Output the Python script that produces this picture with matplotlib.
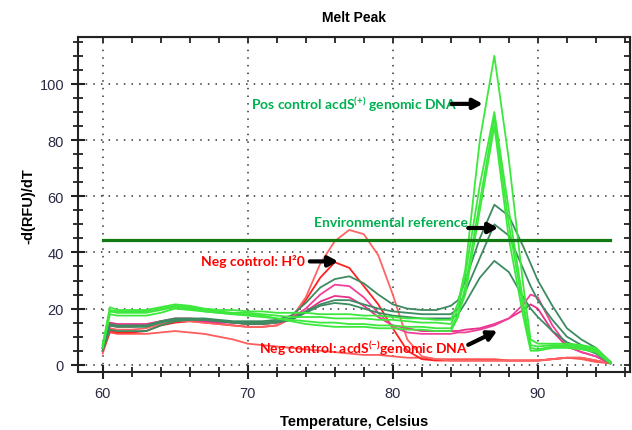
import matplotlib
matplotlib.use("Agg")
import matplotlib.pyplot as plt
from matplotlib.ticker import MultipleLocator

# melt temperatures (Celsius)
temps = [60, 60.5, 61, 62, 63, 64, 65, 66, 67, 68, 69, 70, 71, 72, 73, 74, 75, 76, 77, 78,
         79, 80, 81, 82, 83, 84, 84.5, 85, 86, 87, 88, 89, 89.5, 90, 91, 92, 93, 94, 95]

# positive control acdS(+) genomic DNA
pos_1 = [7, 20.5, 19.5, 19.5, 19.5, 20.5, 21.5, 21, 20, 19.5, 19.5, 19, 19, 18.5, 18.5, 18.5, 18, 18, 18, 17.5,
         17.5, 17, 16.5, 16.5, 16, 16, 22, 34, 80, 110, 73, 28, 9, 7.5, 7.5, 7.5, 7, 6, 1]
pos_2 = [7, 19.5, 19, 19, 19, 20, 21, 20.5, 19.5, 19, 18.5, 18.5, 18, 17.5, 17, 17, 17, 16.5, 16.5, 16.5,
         16, 16, 15.5, 15, 15, 14.5, 20, 32, 64, 90, 55, 22, 7, 6.5, 7, 7, 6.5, 5.5, 1]
pos_3 = [6, 18, 17.5, 17.5, 17.5, 18.5, 20, 19.5, 19, 18.5, 18, 18, 17.5, 16.5, 15.5, 14.5, 14, 13.5, 13.5, 13.5,
         13, 13, 12.5, 12.5, 12, 12, 17, 28, 58, 88, 50, 20, 6, 5.5, 6.5, 6.5, 6, 5, 1]
pos_4 = [6, 19, 18.5, 18.5, 18.5, 19.5, 20.5, 20, 19, 18.5, 18, 17.5, 17, 16.5, 16, 15.5, 15, 15, 14.5, 14.5,
         14, 14, 13.5, 13.5, 13, 13, 18, 25, 55, 85, 45, 17, 5, 5, 6, 6, 5.5, 4.5, 0.5]

# environmental samples
env_1 = [6, 14.5, 14, 14, 14, 15.5, 16.5, 16.5, 16.5, 16, 15.5, 15.5, 15.5, 16, 17.5, 22, 27.5, 30.5, 31.5, 29,
         25, 21.5, 20, 19.5, 19.5, 21, 23, 30, 45, 57, 53, 42, 36, 30, 21, 13, 9, 6, 1]
env_2 = [6, 14, 13.5, 13.5, 13.5, 15, 16, 16, 16, 15.5, 15, 15, 15, 15.5, 16.5, 19, 21.5, 23, 23, 21.5,
         20, 19, 18.5, 18, 18, 18, 20, 26, 38, 50, 46, 34, 28, 23, 16, 10, 7, 5, 1]
env_3 = [5, 12.5, 12, 12, 12, 14, 15.5, 16, 16, 15.5, 15, 14.5, 14.5, 15, 16, 18.5, 21, 22, 21.5, 20,
         18.5, 17.5, 17, 16.5, 16.5, 16.5, 18, 22, 31, 37, 33, 24, 20, 17, 12, 8, 6, 4, 0.5]

# negative control acdS(-) genomic DNA
neg_1 = [5, 14, 13.5, 13.5, 14, 15.5, 16.5, 16.5, 16, 15.5, 15, 14.5, 14.5, 15, 16.5, 20, 25, 28.5, 28, 24,
         18.5, 13.5, 11.5, 11, 11, 11, 11.5, 11.5, 12.5, 14, 16.5, 21.5, 25, 24, 14, 7, 4.5, 3, 0.5]
neg_2 = [6, 15, 14.5, 14.5, 14.5, 15.5, 16, 16, 15.5, 15, 15, 14.5, 14.5, 15, 16, 19, 22.5, 24.5, 24, 21,
         17, 14, 13, 12, 12, 12, 12, 12.5, 13, 14.5, 16.5, 19.5, 21.5, 20, 12, 6.5, 4.5, 3, 0.5]

# negative control H2O
h2o_1 = [6, 13, 12.5, 12.5, 13, 14.5, 15.5, 15.5, 15, 14.5, 14, 13.5, 13.5, 14, 16.5, 24, 36, 44, 48, 46.5,
         39, 25, 9, 3, 2, 1.5, 1.5, 1.5, 1.5, 1.5, 1.5, 1.5, 1.5, 1.5, 2, 2.5, 2.5, 1.5, 0.5]
h2o_2 = [5, 12, 11.5, 11.5, 12, 14, 15, 15.5, 15, 14.5, 14, 13.5, 13.5, 14, 16.5, 23, 31, 36.5, 34.5, 28,
         21.5, 13, 5, 2, 1.5, 1.5, 1.5, 1.5, 1.5, 1.5, 1.5, 1.5, 1.5, 1.5, 2, 2.5, 2.5, 1.5, 0.5]
h2o_3 = [4, 11.5, 11, 11, 11, 11.5, 12, 11.5, 11, 10, 9, 7.5, 7, 6.5, 6, 5.5, 5, 4.5, 4, 3.5,
         3.5, 3, 2.5, 2.5, 2, 2, 2, 2, 2, 2, 1.5, 1.5, 1.5, 1.5, 2, 2.5, 2, 1, 0.5]

threshold = 44.5

plt.rcParams["mathtext.fontset"] = "custom"
plt.rcParams["mathtext.rm"] = "Lato:bold"
plt.rcParams["mathtext.it"] = "Lato:bold"
plt.rcParams["mathtext.bf"] = "Lato:bold"
plt.rcParams["mathtext.default"] = "rm"

fig = plt.figure(figsize=(6.32, 4.31), dpi=100)
ax = fig.add_axes([0.1234, 0.1338, 0.8734, 0.7773])

for ys, c in [(h2o_3, "#ff5c5c"), (h2o_2, "#ff2020"), (h2o_1, "#ff6464"),
              (neg_2, "#e8308a"), (neg_1, "#f0409a"),
              (env_3, "#3d8b60"), (env_2, "#3d8b60"), (env_1, "#3d8b60"),
              (pos_4, "#3ce83c"), (pos_3, "#3ce83c"), (pos_2, "#3ce83c"), (pos_1, "#3ce83c")]:
    ax.plot(temps, ys, color=c, lw=1.3)

ax.plot([60, 95], [threshold, threshold], color="#127a12", lw=2.3)

ax.set_xlim(58.3, 96.35)
ax.set_ylim(-2.7, 116.6)
ax.xaxis.set_major_locator(MultipleLocator(10))
ax.xaxis.set_minor_locator(MultipleLocator(2))
ax.yaxis.set_major_locator(MultipleLocator(20))
ax.yaxis.set_minor_locator(MultipleLocator(5))
ax.grid(True, which="major", linestyle=(0, (1, 4)), color="#333333", lw=1.1)

ax.tick_params(which="major", direction="inout", length=10, width=1.5, colors="#222222",
               labelcolor="#2a2a44", labelsize=10.5, pad=5)
ax.tick_params(which="minor", direction="inout", length=7, width=1.3, colors="#222222")
for lab in ax.get_xticklabels() + ax.get_yticklabels():
    lab.set_fontfamily("Liberation Sans")
for s in ax.spines.values():
    s.set_linewidth(1.5)
    s.set_color("#222222")

top = ax.secondary_xaxis("top")
top.xaxis.set_major_locator(MultipleLocator(10))
top.xaxis.set_minor_locator(MultipleLocator(2))
top.tick_params(which="both", direction="in", length=4, width=1.3, labeltop=False, colors="#222222")
right = ax.secondary_yaxis("right")
right.yaxis.set_major_locator(MultipleLocator(20))
right.yaxis.set_minor_locator(MultipleLocator(5))
right.tick_params(which="both", direction="in", length=4, width=1.3, labelright=False, colors="#222222")

ax.set_title("Melt Peak", fontfamily="Liberation Sans", fontweight="bold", fontsize=10, pad=12)
ax.set_xlabel("Temperature, Celsius", fontfamily="Liberation Sans", fontweight="bold", fontsize=10.5, labelpad=10)
ax.set_ylabel("-d(RFU)/dT", fontfamily="Liberation Sans", fontweight="bold", fontsize=10.5, labelpad=3)

green = "#00b050"
red = "#ff0000"
txt = dict(fontfamily="Lato", fontweight="bold", fontsize=10, va="center", ha="left")
ax.text(70.2, 92.9, "Pos control acdS$^{(+)}$ genomic DNA", color=green, **txt)
ax.text(74.57, 50.7, "Environmental reference", color=green, **txt)
ax.text(66.8, 37.0, "Neg control: H²0", color=red, **txt)
ax.text(70.78, 6.2, "Neg control: acdS$^{(-)}$genomic DNA", color=red, **txt)

arrow = dict(arrowstyle="-|>,head_length=0.55,head_width=0.3", lw=3, color="black",
             shrinkA=0, shrinkB=0)
ax.annotate("", xy=(86.2, 92.9), xytext=(84.05, 92.9), arrowprops=arrow)
ax.annotate("", xy=(87.26, 48.7), xytext=(85.2, 48.7), arrowprops=arrow)
ax.annotate("", xy=(76.23, 36.8), xytext=(74.28, 36.8), arrowprops=arrow)
ax.annotate("", xy=(87.2, 12.1), xytext=(85.2, 7.1), arrowprops=arrow)

fig.savefig("out.png", dpi=100)
